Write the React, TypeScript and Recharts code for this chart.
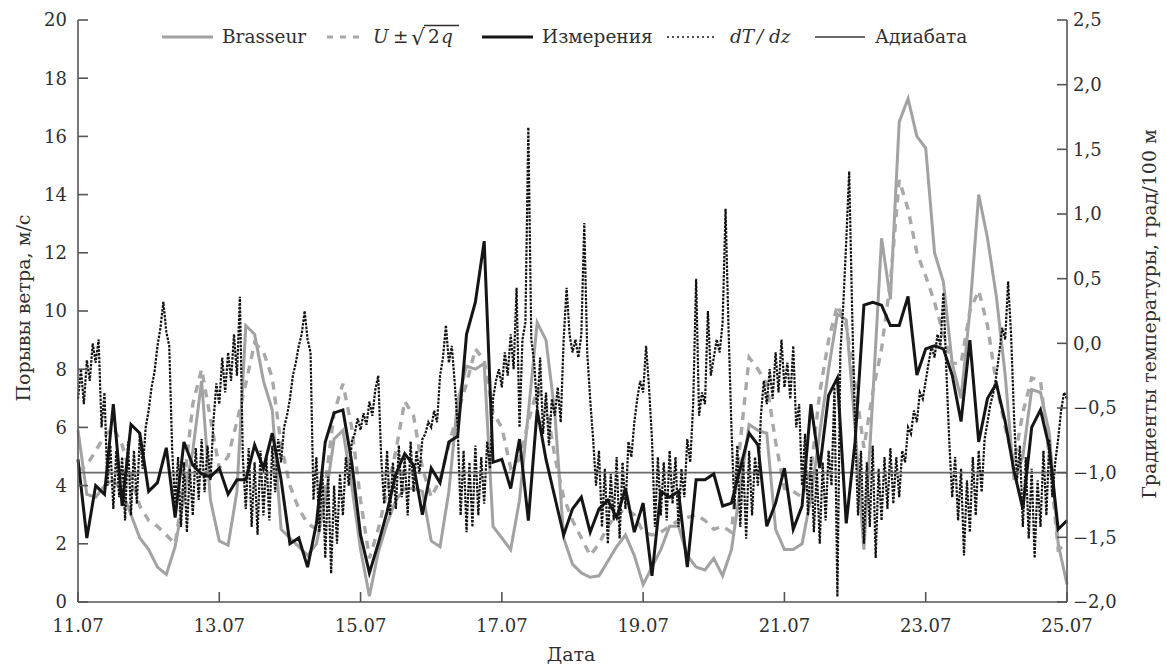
import { LineChart, Line, XAxis, YAxis, ReferenceLine } from "recharts";

const FONT = '"DejaVu Serif", "Liberation Serif", serif';
const INK = "#2f2f2f";
const AXIS = "#555";
const TXT = { fontFamily: FONT, fontSize: 18.5 };

// x is days since 11.07
const DATE_TICKS = [0, 2, 4, 6, 8, 10, 12, 14];
const DATE_LABELS = ["11.07", "13.07", "15.07", "17.07", "19.07", "21.07", "23.07", "25.07"];
const GUST_TICKS = [0, 2, 4, 6, 8, 10, 12, 14, 16, 18, 20];
const GRAD_TICKS = [-2, -1.5, -1, -0.5, 0, 0.5, 1, 1.5, 2, 2.5];
const ADIABAT = -1.0;

// gusts, m/s, every 3 h
const BRASSEUR = [
  5.9, 3.7, 3.6, 4.0, 4.2, 3.8, 3.0, 2.2,
  1.8, 1.2, 0.95, 1.9, 3.6, 5.2, 7.6, 3.5,
  2.1, 1.95, 3.8, 9.5, 9.2, 7.6, 6.6, 2.5,
  2.2, 1.9, 1.6, 2.0, 3.5, 5.6, 5.9, 4.0,
  1.8, 0.2, 1.7, 2.7, 3.5, 3.9, 3.9, 3.8,
  2.1, 1.9, 3.8, 6.9, 8.1, 8.0, 8.2, 2.6,
  2.2, 1.8, 3.5, 6.5, 9.6, 9.0, 6.5, 2.2,
  1.3, 1.0, 0.85, 0.9, 1.4, 1.9, 2.3, 1.6,
  0.6, 1.2, 1.8, 2.6, 2.6, 1.6, 1.2, 1.1,
  1.5, 0.9, 1.8, 3.9, 6.1, 5.9, 5.8, 2.5,
  1.8, 1.8, 2.0, 3.6, 5.8, 8.0, 9.9, 9.7,
  6.0, 1.8, 7.0, 12.5, 10.4, 16.5, 17.3, 16.0,
  15.6, 12.0, 11.0, 8.2, 7.0, 10.0, 14.0, 12.5,
  10.5, 7.8, 4.2, 5.0, 7.3, 7.2, 5.8, 2.0,
  0.6,
];

const U_SQRT2Q = [
  4.5, 4.7, 5.2, 5.7, 6.0, 5.4, 4.3, 3.3,
  2.8, 2.6, 2.3, 2.0, 4.0, 6.8, 8.0, 6.3,
  4.6, 5.0, 6.2, 7.5, 8.9, 8.6, 7.7, 5.4,
  4.0, 3.2, 2.7, 2.5, 4.0, 6.5, 7.5, 6.0,
  3.5, 1.5, 2.5, 3.8, 5.2, 6.9, 6.4, 4.6,
  3.6, 4.2, 5.4, 6.5, 7.5, 8.7, 8.3, 6.5,
  6.0, 4.6, 4.9, 6.2, 7.3, 6.8, 5.0, 3.6,
  2.8, 2.2, 1.6, 2.0, 2.6, 3.0, 3.2, 3.0,
  2.4, 2.3, 2.4, 2.6, 2.8, 2.9, 3.0, 2.8,
  2.5, 2.6, 2.4, 5.5, 8.4, 8.0, 7.5, 5.5,
  3.9, 3.8, 3.6, 4.5, 7.2, 9.0, 10.2, 9.5,
  7.5, 5.3, 7.2, 8.7, 11.0, 14.5, 13.5, 12.0,
  11.2, 10.3, 9.2, 8.2, 8.2, 10.0, 10.7, 9.5,
  7.5, 6.0, 4.8, 6.5, 7.7, 7.6, 5.0, 1.8,
  2.0,
];

const MEASURED = [
  4.9, 2.2, 4.0, 3.7, 6.8, 3.3, 6.1, 5.8,
  3.8, 4.1, 5.3, 2.9, 5.5, 4.7, 4.4, 4.3,
  4.6, 3.7, 4.2, 4.2, 5.4, 4.6, 5.8, 4.2,
  2.0, 2.2, 1.2, 2.7, 5.5, 6.5, 6.6, 4.8,
  2.3, 1.0, 2.0, 3.1, 4.4, 5.1, 4.7, 3.0,
  4.6, 4.1, 5.5, 5.7, 9.2, 10.3, 12.4, 4.8,
  4.9, 3.9, 5.6, 2.8, 6.6, 4.9, 3.6, 2.3,
  3.2, 3.6, 2.4, 3.2, 3.5, 2.9, 3.9, 2.4,
  3.4, 0.9, 3.8, 3.6, 3.8, 1.2, 4.2, 4.2,
  4.4, 3.3, 3.4, 4.6, 5.8, 5.4, 2.6, 3.4,
  4.6, 2.5, 3.3, 6.8, 4.6, 7.1, 7.7, 2.7,
  5.5, 10.2, 10.3, 10.2, 9.5, 9.5, 10.5, 7.8,
  8.7, 8.8, 8.7, 7.8, 6.2, 9.0, 5.5, 7.0,
  7.5, 6.2, 4.5, 3.2, 6.0, 6.6, 5.3, 2.5,
  2.8,
];

// temperature gradient, deg/100 m, hourly
const DT_DZ = [
  -0.43, -0.2, -0.47, -0.13, -0.29, 0.0, -0.15, 0.03, -0.65, -0.38, -1.1, -0.79, -1.28, -0.83, -1.19, -0.88, -1.37, -0.76, -1.33, -0.83, -1.24, -0.7, -0.97, -0.65,
  -0.52, -0.34, -0.22, -0.02, 0.12, 0.32, 0.09, -0.02, -0.83, -1.24, -0.88, -1.42, -0.92, -1.46, -0.97, -1.33, -0.81, -1.21, -0.74, -1.15, -0.79, -1.06, -0.61, -0.31,
  -0.47, -0.11, -0.38, -0.07, -0.29, 0.07, -0.25, 0.36, -0.88, -1.28, -0.81, -1.42, -0.92, -1.48, -0.83, -1.33, -0.88, -1.37, -0.79, -1.15, -0.74, -0.92, -0.65, -0.56,
  -0.43, -0.25, -0.15, -0.02, 0.07, 0.25, 0.03, -0.07, -1.21, -0.88, -1.46, -0.97, -1.66, -1.03, -1.78, -1.1, -1.55, -1.01, -1.33, -0.88, -1.1, -0.76, -0.7, -0.58,
  -0.67, -0.54, -0.63, -0.45, -0.56, -0.36, -0.25, -0.88, -1.24, -0.83, -1.33, -0.92, -1.28, -0.79, -1.19, -0.88, -1.33, -0.76, -1.15, -0.83, -1.01, -0.74, -0.7, -0.61,
  -0.65, -0.52, -0.61, -0.25, -0.11, 0.14, -0.15, -0.02, -0.31, -0.65, -1.33, -0.83, -1.46, -0.92, -1.42, -0.79, -1.33, -0.88, -1.24, -0.76, -0.97, -0.43, -0.29, -0.2,
  -0.34, -0.07, -0.25, 0.07, -0.2, 0.43, -0.65, 0.03, 0.16, 1.67, 0.03, -0.15, -0.52, -0.11, -0.7, -0.38, -0.79, -0.43, -0.56, -0.34, -0.61, 0.03, 0.43, 0.07,
  -0.07, 0.03, -0.11, 0.07, 0.93, -0.07, -0.43, -0.74, -1.1, -0.83, -1.42, -0.97, -1.55, -1.01, -1.37, -0.88, -1.51, -0.92, -1.28, -0.76, -0.88, -0.61, -0.43, -0.29,
  -0.38, -0.02, -0.34, -0.74, -1.42, -0.88, -1.33, -0.92, -1.37, -0.83, -1.24, -0.88, -1.42, -0.97, -1.19, -0.74, -0.92, -0.47, 0.5, -0.56, -0.38, -0.47, 0.25, -0.25,
  -0.11, 0.03, -0.07, 0.16, 1.04, 0.12, -0.65, -1.28, -0.79, -1.42, -0.92, -1.51, -0.83, -1.33, -0.88, -1.1, -0.56, -0.29, -0.47, -0.2, -0.43, -0.07, -0.38, 0.03,
  -0.34, -0.15, -0.43, -0.02, -0.65, -0.47, -1.1, -0.7, -1.33, -0.88, -1.46, -0.97, -1.55, -0.92, -1.37, -0.83, -1.1, -0.34, -1.96, -0.07, 0.3, 0.79, 1.33, 0.25,
  -0.65, -1.33, -0.83, -1.55, -0.92, -1.42, -0.79, -1.66, -0.97, -1.37, -0.88, -1.28, -0.81, -1.24, -0.88, -1.19, -0.83, -0.92, -0.65, -0.7, -0.52, -0.61, -0.38, -0.43,
  -0.29, -0.15, -0.02, -0.11, 0.07, -0.02, 0.39, -0.2, -0.76, -1.19, -0.88, -1.37, -0.97, -1.64, -1.06, -1.46, -0.88, -1.33, -0.83, -1.15, -0.74, -0.61, -0.47, -0.38,
  -0.25, -0.07, 0.12, 0.03, 0.48, 0.07, -0.56, -1.06, -0.79, -1.42, -0.88, -1.51, -0.97, -1.66, -1.06, -1.42, -0.83, -1.33, -0.74, -1.19, -0.92, -0.74, -0.52, -0.38,
  -0.43,
];

const series = (vals: number[], perDay: number) =>
  vals.map((v, i) => ({ t: i / perDay, v }));

const fmtDate = (t: number) => DATE_LABELS[DATE_TICKS.indexOf(t)] ?? "";
const fmtGust = (v: number) => String(v);
const fmtGrad = (v: number) =>
  (v < 0 ? "\u2212" : "") + Math.abs(v).toFixed(1).replace(".", ",");

// tick text with the font set on the element itself
function AxisTick(props: any) {
  const { x, y, textAnchor, payload, fmt, below } = props;
  return (
    <text
      x={x}
      y={y}
      dy={below ? "0.75em" : "0.36em"}
      textAnchor={textAnchor}
      style={{ fontFamily: FONT, fontSize: 18 }}
      fill={INK}
    >
      {fmt(payload.value)}
    </text>
  );
}

// prop names kept apart from the ones Recharts passes to a label
function AxisTitle({ ax, ay, rot, txt }: { ax: number; ay: number; rot: number; txt: string }) {
  return (
    <text
      x={ax}
      y={ay}
      transform={rot ? `rotate(${rot} ${ax} ${ay})` : undefined}
      textAnchor="middle"
      dominantBaseline="central"
      style={{ fontFamily: FONT, fontSize: 19 }}
      fill={INK}
    >
      {txt}
    </text>
  );
}

function LegendRow() {
  const y = 37;
  const base = 43;
  return (
    <svg width={1167} height={60} style={{ position: "absolute", left: 0, top: 0 }} fill={INK}>
      <line x1={162} x2={213} y1={y} y2={y} stroke="#a2a2a2" strokeWidth={3} />
      <text x={222} y={base} style={TXT}>Brasseur</text>

      <line x1={327} x2={362} y1={y} y2={y} stroke="#a8a8a8" strokeWidth={3} strokeDasharray="6 7" />
      <text y={base} style={TXT}>
        <tspan x={373} fontStyle="italic">U</tspan>
        <tspan x={393}>±</tspan>
        <tspan x={411} fontSize={22} dy={2}>√</tspan>
        <tspan x={428} dy={-2}>2</tspan>
        <tspan x={441} fontStyle="italic">q</tspan>
      </text>
      <line x1={424} x2={459} y1={25.5} y2={25.5} stroke={INK} strokeWidth={1.3} />

      <line x1={482} x2={533} y1={y} y2={y} stroke="#151515" strokeWidth={3} />
      <text x={542} y={base} style={TXT}>Измерения</text>

      <line x1={667} x2={717} y1={y} y2={y} stroke="#151515" strokeWidth={1.6} strokeDasharray="2 3" />
      <text y={base} style={{ ...TXT, fontStyle: "italic" }}>
        <tspan x={730}>dT</tspan>
        <tspan x={757}>/</tspan>
        <tspan x={769}>dz</tspan>
      </text>

      <line x1={815} x2={865} y1={y} y2={y} stroke="#6a6a6a" strokeWidth={2} />
      <text x={875} y={base} style={TXT}>Адиабата</text>
    </svg>
  );
}

export default function App() {
  const axisLine = { stroke: AXIS, strokeWidth: 1.6 };
  return (
    <div style={{ position: "absolute", left: 0, top: 0, width: 1167, height: 666, background: "#fff" }}>
      <LineChart width={1167} height={666} margin={{ top: 20, right: 0, bottom: 34, left: 0 }}>
        <XAxis
          dataKey="t"
          type="number"
          domain={[0, 14]}
          ticks={DATE_TICKS}
          interval={0}
          tick={(p: any) => <AxisTick {...p} fmt={fmtDate} below />}
          tickSize={-10}
          tickMargin={26}
          axisLine={axisLine}
          tickLine={axisLine}
          height={30}
          label={<AxisTitle ax={571} ay={654} rot={0} txt="Дата" />}
        />
        <YAxis
          yAxisId="gust"
          domain={[0, 20]}
          ticks={GUST_TICKS}
          interval={0}
          width={78}
          tick={(p: any) => <AxisTick {...p} fmt={fmtGust} />}
          tickSize={-10}
          tickMargin={21}
          axisLine={axisLine}
          tickLine={axisLine}
          label={<AxisTitle ax={23} ay={308} rot={-90} txt="Порывы ветра, м/с" />}
        />
        <YAxis
          yAxisId="grad"
          orientation="right"
          domain={[-2, 2.5]}
          ticks={GRAD_TICKS}
          interval={0}
          width={100}
          tick={(p: any) => <AxisTick {...p} fmt={fmtGrad} />}
          tickSize={-10}
          tickMargin={16}
          axisLine={axisLine}
          tickLine={axisLine}
          label={<AxisTitle ax={1149} ay={314} rot={-90} txt="Градиенты температуры, град/100 м" />}
        />
        <Line
          data={series(BRASSEUR, 8)}
          dataKey="v"
          yAxisId="gust"
          stroke="#a2a2a2"
          strokeWidth={3}
          dot={false}
          activeDot={false}
          isAnimationActive={false}
        />
        <Line
          data={series(U_SQRT2Q, 8)}
          dataKey="v"
          yAxisId="gust"
          stroke="#a8a8a8"
          strokeWidth={3.4}
          strokeDasharray="8 7"
          dot={false}
          activeDot={false}
          isAnimationActive={false}
        />
        <Line
          data={series(DT_DZ, 24)}
          dataKey="v"
          yAxisId="grad"
          stroke="#111"
          strokeWidth={2.2}
          strokeDasharray="2.5 1.3"
          dot={false}
          activeDot={false}
          isAnimationActive={false}
        />
        <ReferenceLine yAxisId="grad" y={ADIABAT} stroke="#6a6a6a" strokeWidth={1.8} />
        <Line
          data={series(MEASURED, 8)}
          dataKey="v"
          yAxisId="gust"
          stroke="#151515"
          strokeWidth={3}
          dot={false}
          activeDot={false}
          isAnimationActive={false}
        />
      </LineChart>
      <LegendRow />
    </div>
  );
}
